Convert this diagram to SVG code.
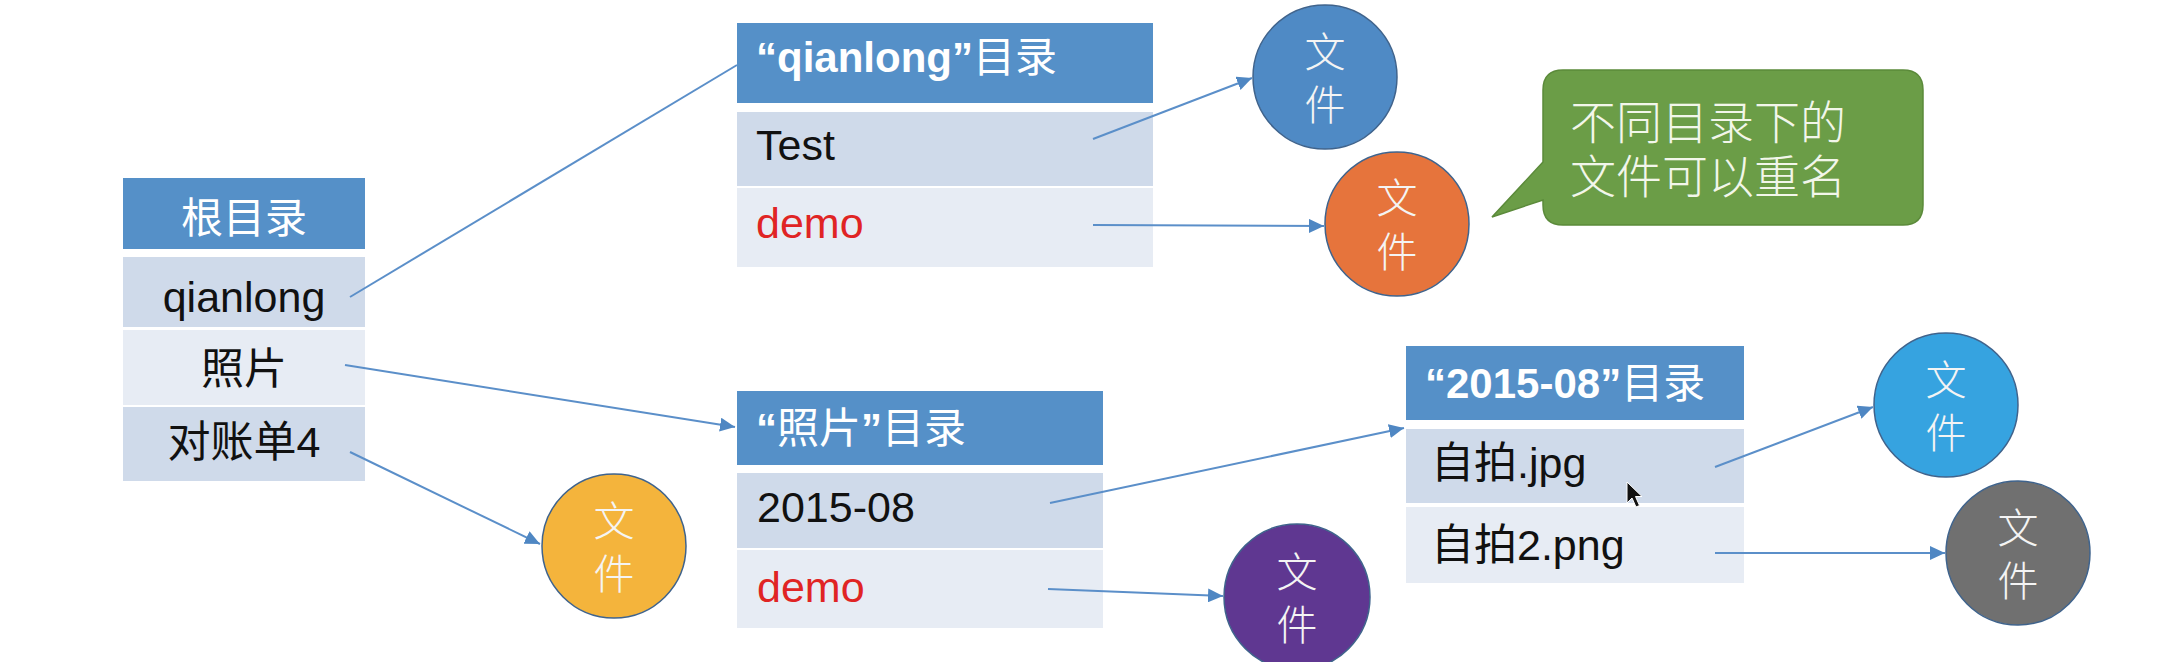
<svg xmlns="http://www.w3.org/2000/svg" width="2183" height="662" viewBox="0 0 2183 662">
<style>
  .hdr{fill:#5590c8}
  .rowd{fill:#cfdaea}
  .rowl{fill:#e7ecf4}
  .t{font-family:'Liberation Sans','Noto Sans CJK SC',sans-serif;font-size:43px;fill:#111}
  .ht{font-family:'Liberation Sans','Noto Sans CJK SC',sans-serif;font-size:42px;fill:#fff}
  .red{fill:#e02424}
  .ct{font-family:'Noto Sans CJK SC',sans-serif;font-weight:300;font-size:41px;fill:#f4f4f4;text-anchor:middle}
  .circ{stroke:#3f638c;stroke-width:1.5}
  .conn{stroke:#5b8fc9;stroke-width:2;fill:none}
</style>
<defs>
  <marker id="arr" markerUnits="userSpaceOnUse" markerWidth="16" markerHeight="14" refX="15" refY="7" orient="auto">
    <path d="M0,0 L15,7 L0,14 z" fill="#4f87c3"/>
  </marker>
</defs>
<rect width="2183" height="662" fill="#ffffff"/>

<g id="root-dir">
  <rect class="hdr" x="123" y="178" width="242" height="71"/>
  <text class="ht" x="244" y="233" text-anchor="middle" font-size="46">根目录</text>
  <rect class="rowd" x="123" y="257" width="242" height="70"/>
  <text class="t" x="244" y="312" text-anchor="middle" font-size="41">qianlong</text>
  <rect class="rowl" x="123" y="330" width="242" height="75"/>
  <text class="t" x="244" y="384" text-anchor="middle" font-size="44">照片</text>
  <rect class="rowd" x="123" y="407" width="242" height="74"/>
  <text class="t" x="244" y="457" text-anchor="middle" font-size="44">对账单4</text>
</g>

<g id="qianlong-dir">
  <rect class="hdr" x="737" y="23" width="416" height="80"/>
  <text class="ht" x="756" y="72"><tspan font-weight="bold">“qianlong”</tspan>目录</text>
  <rect class="rowd" x="737" y="112" width="416" height="74"/>
  <text class="t" x="756" y="160" font-size="40">Test</text>
  <rect class="rowl" x="737" y="188" width="416" height="79"/>
  <text class="t red" x="756" y="238" font-size="42">demo</text>
</g>

<g id="photo-dir">
  <rect class="hdr" x="737" y="391" width="366" height="74"/>
  <text class="ht" x="756" y="443" font-size="44"><tspan font-weight="bold">“</tspan>照片<tspan font-weight="bold">”</tspan>目录</text>
  <rect class="rowd" x="737" y="473" width="366" height="75"/>
  <text class="t" x="757" y="522" font-size="42">2015-08</text>
  <rect class="rowl" x="737" y="550" width="366" height="78"/>
  <text class="t red" x="757" y="602" font-size="42">demo</text>
</g>

<g id="dir-2015-08">
  <rect class="hdr" x="1406" y="346" width="338" height="74"/>
  <text class="ht" x="1425" y="398"><tspan font-weight="bold">“2015-08”</tspan>目录</text>
  <rect class="rowd" x="1406" y="429" width="338" height="74"/>
  <text class="t" x="1431" y="478">自拍.jpg</text>
  <rect class="rowl" x="1406" y="507" width="338" height="76"/>
  <text class="t" x="1431" y="560">自拍2.png</text>
</g>

<g id="file-blue">
  <circle class="circ" cx="1325" cy="77" r="72" fill="#4f8ac5"/>
  <text class="ct" x="1325" y="67">文</text>
  <text class="ct" x="1325" y="120">件</text>
</g>

<g id="file-orange">
  <circle class="circ" cx="1397" cy="224" r="72" fill="#e6743c"/>
  <text class="ct" x="1397" y="213">文</text>
  <text class="ct" x="1397" y="267">件</text>
</g>

<g id="note">
  <path d="M1563,70 H1903 Q1923,70 1923,90 V205 Q1923,225 1903,225 H1563 Q1543,225 1543,205 V200 L1492,217 L1543,162 V90 Q1543,70 1563,70 Z" fill="#6b9d47" stroke="#5b8a3a" stroke-width="1.5"/>
  <text font-family="'Noto Sans CJK SC',sans-serif" font-weight="300" font-size="46" fill="#f2f6ea" x="1570" y="139">不同目录下的</text>
  <text font-family="'Noto Sans CJK SC',sans-serif" font-weight="300" font-size="46" fill="#f2f6ea" x="1570" y="193">文件可以重名</text>
</g>

<g id="file-yellow">
  <circle class="circ" cx="614" cy="546" r="72" fill="#f4b43c"/>
  <text class="ct" x="614" y="536">文</text>
  <text class="ct" x="614" y="589">件</text>
</g>

<g id="file-purple">
  <circle class="circ" cx="1297" cy="597" r="73" fill="#5f3791"/>
  <text class="ct" x="1297" y="587">文</text>
  <text class="ct" x="1297" y="640">件</text>
</g>

<g id="file-lightblue">
  <circle class="circ" cx="1946" cy="405" r="72" fill="#36a3e0"/>
  <text class="ct" x="1946" y="395">文</text>
  <text class="ct" x="1946" y="448">件</text>
</g>

<g id="file-gray">
  <circle class="circ" cx="2018" cy="553" r="72" fill="#707070"/>
  <text class="ct" x="2018" y="543">文</text>
  <text class="ct" x="2018" y="596">件</text>
</g>

<g id="connectors">
  <line class="conn" x1="350" y1="297" x2="737" y2="65"/>
  <line class="conn" x1="345" y1="365" x2="735" y2="427" marker-end="url(#arr)"/>
  <line class="conn" x1="350" y1="452" x2="540" y2="544" marker-end="url(#arr)"/>
  <line class="conn" x1="1093" y1="139" x2="1252" y2="78" marker-end="url(#arr)"/>
  <line class="conn" x1="1093" y1="225" x2="1324" y2="226" marker-end="url(#arr)"/>
  <line class="conn" x1="1050" y1="503" x2="1404" y2="428" marker-end="url(#arr)"/>
  <line class="conn" x1="1048" y1="589" x2="1223" y2="596" marker-end="url(#arr)"/>
  <line class="conn" x1="1715" y1="467" x2="1873" y2="407" marker-end="url(#arr)"/>
  <line class="conn" x1="1715" y1="553" x2="1945" y2="553" marker-end="url(#arr)"/>
</g>

<path d="M1627,482 L1627,503 L1632,498 L1636,507 L1639.5,505.5 L1635.5,496.5 L1642,496.5 Z" fill="#111" stroke="#fff" stroke-width="1"/>
</svg>
